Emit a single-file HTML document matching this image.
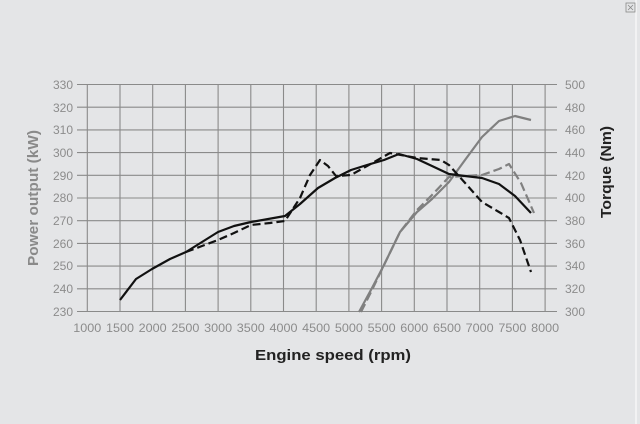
<!DOCTYPE html>
<html><head><style>
html,body{margin:0;padding:0;background:#e4e5e7;width:640px;height:424px;overflow:hidden}
svg{display:block}
</style></head><body>
<svg width="640" height="424" viewBox="0 0 640 424" xmlns="http://www.w3.org/2000/svg" font-family="Liberation Sans, sans-serif">
<rect width="640" height="424" fill="#e4e5e7"/>
<line x1="636" y1="0" x2="636" y2="424" stroke="#fff" stroke-width="1"/>
<rect x="626" y="3" width="9" height="9" fill="none" stroke="#888" stroke-width="0.8"/>
<path d="M628 5 L633 10 M633 5 L628 10" stroke="#888" stroke-width="0.8"/>
<g stroke="#8a8a8a" stroke-width="1.1">
<line x1="77" y1="84.5" x2="557" y2="84.5"/><line x1="77" y1="107.2" x2="557" y2="107.2"/><line x1="77" y1="129.9" x2="557" y2="129.9"/><line x1="77" y1="152.6" x2="557" y2="152.6"/><line x1="77" y1="175.3" x2="557" y2="175.3"/><line x1="77" y1="198" x2="557" y2="198"/><line x1="77" y1="220.7" x2="557" y2="220.7"/><line x1="77" y1="243.4" x2="557" y2="243.4"/><line x1="77" y1="266.1" x2="557" y2="266.1"/><line x1="77" y1="288.8" x2="557" y2="288.8"/><line x1="77" y1="311.5" x2="557" y2="311.5"/>
<line x1="87.3" y1="84.5" x2="87.3" y2="311.5"/><line x1="120" y1="84.5" x2="120" y2="311.5"/><line x1="152.7" y1="84.5" x2="152.7" y2="311.5"/><line x1="185.4" y1="84.5" x2="185.4" y2="311.5"/><line x1="218.1" y1="84.5" x2="218.1" y2="311.5"/><line x1="250.8" y1="84.5" x2="250.8" y2="311.5"/><line x1="283.5" y1="84.5" x2="283.5" y2="311.5"/><line x1="316.2" y1="84.5" x2="316.2" y2="311.5"/><line x1="348.9" y1="84.5" x2="348.9" y2="311.5"/><line x1="381.6" y1="84.5" x2="381.6" y2="311.5"/><line x1="414.3" y1="84.5" x2="414.3" y2="311.5"/><line x1="447" y1="84.5" x2="447" y2="311.5"/><line x1="479.7" y1="84.5" x2="479.7" y2="311.5"/><line x1="512.4" y1="84.5" x2="512.4" y2="311.5"/><line x1="545.1" y1="84.5" x2="545.1" y2="311.5"/>
</g>
<g fill="#8c8c8c" font-size="12" text-anchor="end">
<text x="73" y="89">330</text><text x="73" y="112">320</text><text x="73" y="134">310</text><text x="73" y="157">300</text><text x="73" y="180">290</text><text x="73" y="202">280</text><text x="73" y="225">270</text><text x="73" y="248">260</text><text x="73" y="270">250</text><text x="73" y="293">240</text><text x="73" y="316">230</text>
</g>
<g fill="#8c8c8c" font-size="12">
<text x="565" y="89">500</text><text x="565" y="112">480</text><text x="565" y="134">460</text><text x="565" y="157">440</text><text x="565" y="180">420</text><text x="565" y="202">400</text><text x="565" y="225">380</text><text x="565" y="248">360</text><text x="565" y="270">340</text><text x="565" y="293">320</text><text x="565" y="316">300</text>
</g>
<g fill="#8c8c8c" font-size="12" text-anchor="middle">
<text x="87.3" y="332" textLength="28" lengthAdjust="spacingAndGlyphs">1000</text><text x="120" y="332" textLength="28" lengthAdjust="spacingAndGlyphs">1500</text><text x="152.7" y="332" textLength="28" lengthAdjust="spacingAndGlyphs">2000</text><text x="185.4" y="332" textLength="28" lengthAdjust="spacingAndGlyphs">2500</text><text x="218.1" y="332" textLength="28" lengthAdjust="spacingAndGlyphs">3000</text><text x="250.8" y="332" textLength="28" lengthAdjust="spacingAndGlyphs">3500</text><text x="283.5" y="332" textLength="28" lengthAdjust="spacingAndGlyphs">4000</text><text x="316.2" y="332" textLength="28" lengthAdjust="spacingAndGlyphs">4500</text><text x="348.9" y="332" textLength="28" lengthAdjust="spacingAndGlyphs">5000</text><text x="381.6" y="332" textLength="28" lengthAdjust="spacingAndGlyphs">5500</text><text x="414.3" y="332" textLength="28" lengthAdjust="spacingAndGlyphs">6000</text><text x="447" y="332" textLength="28" lengthAdjust="spacingAndGlyphs">6500</text><text x="479.7" y="332" textLength="28" lengthAdjust="spacingAndGlyphs">7000</text><text x="512.4" y="332" textLength="28" lengthAdjust="spacingAndGlyphs">7500</text><text x="545.1" y="332" textLength="28" lengthAdjust="spacingAndGlyphs">8000</text>
</g>
<text x="333" y="360" font-size="15" font-weight="bold" fill="#222" text-anchor="middle" textLength="156" lengthAdjust="spacingAndGlyphs">Engine speed (rpm)</text>
<text transform="translate(38,198) rotate(-90)" font-size="15" font-weight="bold" fill="#8a8a8a" text-anchor="middle" textLength="136" lengthAdjust="spacingAndGlyphs">Power output (kW)</text>
<text transform="translate(611,172) rotate(-90)" font-size="15" font-weight="bold" fill="#222" text-anchor="middle" textLength="92" lengthAdjust="spacingAndGlyphs">Torque (Nm)</text>
<g fill="none" stroke-width="2.2" stroke-linejoin="round">
<polyline stroke="#808080" points="359,312 372,288 384,265 400,232 417,212 432,199 449,182 465,160 482,137 499,121 515,116 531,120"/>
<polyline stroke="#808080" stroke-dasharray="9,4" points="361,312 372,290 384,265 400,232 417,210 432,195 449,177 465,176 482,175 499,169 509,164 521,183 534,213"/>
<polyline stroke="#111" points="120,300 136,279 152,269 170,259 186,252 202,242 218,232 234,226 251,222 285,216 300,204 318,188 335,178 351,170 367,165 384,160 399,154 417,159 432,166 449,174 465,176 482,178 499,184 515,196 531,213"/>
<polyline stroke="#111" stroke-dasharray="8,4" points="186,252 202,246 218,240 234,233 251,225 270,223 285,221 300,198 310,175 320,160 328,166 336,176 351,175 367,166 390,153 417,158 441,160 449,165 466,184 482,202 499,212 509,218 520,240 531,272"/>
</g>
</svg>
</body></html>
